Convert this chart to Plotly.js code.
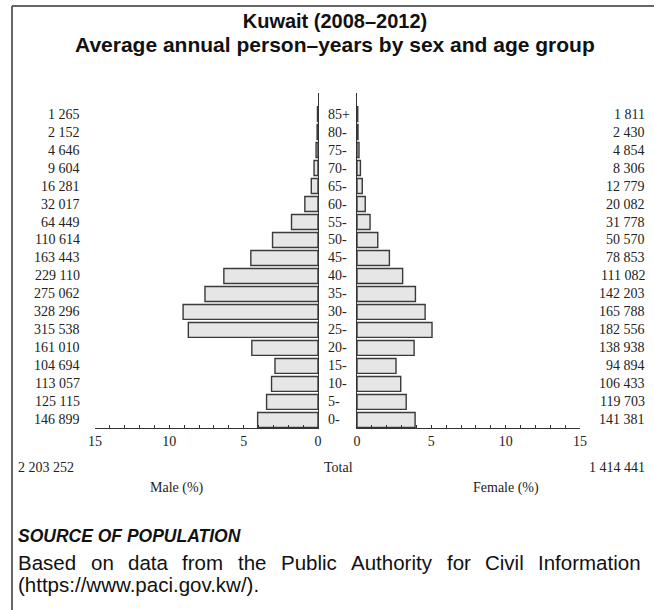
<!DOCTYPE html>
<html>
<head>
<meta charset="utf-8">
<script src="https://cdn.plot.ly/plotly-3.0.1.min.js"></script>
<style>html,body{margin:0;padding:0;background:#fff;}#chart{width:654px;height:610px;}</style>
</head>
<body>
<div id="chart"></div>
<script>
// Data (bottom to top)
const ageGroups = ['0-','5-','10-','15-','20-','25-','30-','35-','40-','45-','50-','55-','60-','65-','70-','75-','80-','85+'];
const maleCounts = [146899,125115,113057,104694,161010,315538,328296,275062,229110,163443,110614,64449,32017,16281,9604,4646,2152,1265];
const femaleCounts = [141381,119703,106433,94894,138938,182556,165788,142203,111082,78853,50570,31778,20082,12779,8306,4854,2430,1811];
const maleTotalLabel = '2 203 252';
const femaleTotalLabel = '1 414 441';
const xTickVals = [0,5,10,15];
const sourceLine1 = 'Based on data from the Public Authority for Civil Information';
const sourceLine2 = '(https://www.paci.gov.kw/).';

const sum = a => a.reduce((s,v)=>s+v,0);
const grand = sum(maleCounts) + sum(femaleCounts);
const malePct = maleCounts.map(v => v/grand*100);
const femalePct = femaleCounts.map(v => v/grand*100);
const fmt = n => String(n).replace(/\B(?=(\d{3})+(?!\d))/g, ' ');

const W = 654, H = 610;
const px = x => x / W;
const py = y => 1 - y / H;

const serif = 'Liberation Serif, Times New Roman, serif';
const sans = 'Liberation Sans, Arial, Helvetica, sans-serif';
const txt = '#222';
const numSize = 14;
const bodySize = 20.5;

const barStyle = {color:'#e6e6e6', line:{color:'#3a3a3a', width:1.4}};

const traces = [
  {type:'bar', orientation:'h', y:ageGroups, x:malePct, xaxis:'x', yaxis:'y', marker:barStyle, hoverinfo:'skip'},
  {type:'bar', orientation:'h', y:ageGroups, x:femalePct, xaxis:'x2', yaxis:'y2', marker:barStyle, hoverinfo:'skip'}
];

const annotations = [];
ageGroups.forEach((g,i) => {
  annotations.push({xref:'paper', yref:'y', x:px(325.5), y:i, text:g, showarrow:false, xanchor:'left', yanchor:'middle', font:{family:serif, size:numSize, color:txt}});
  annotations.push({xref:'paper', yref:'y', x:px(82), y:i, text:fmt(maleCounts[i]), showarrow:false, xanchor:'right', yanchor:'middle', font:{family:serif, size:numSize, color:txt}});
  annotations.push({xref:'paper', yref:'y', x:px(647), y:i, text:fmt(femaleCounts[i]), showarrow:false, xanchor:'right', yanchor:'middle', font:{family:serif, size:numSize, color:txt}});
});
annotations.push({xref:'paper', yref:'paper', x:px(16), y:py(467), text:maleTotalLabel, showarrow:false, xanchor:'left', yanchor:'middle', font:{family:serif, size:numSize, color:txt}});
annotations.push({xref:'paper', yref:'paper', x:px(647), y:py(467), text:femaleTotalLabel, showarrow:false, xanchor:'right', yanchor:'middle', font:{family:serif, size:numSize, color:txt}});
annotations.push({xref:'paper', yref:'paper', x:px(338), y:py(467), text:'Total', showarrow:false, xanchor:'center', yanchor:'middle', font:{family:serif, size:numSize, color:txt}});
annotations.push({xref:'paper', yref:'paper', x:px(177), y:py(488), text:'Male (%)', showarrow:false, xanchor:'center', yanchor:'middle', font:{family:serif, size:numSize, color:txt}});
annotations.push({xref:'paper', yref:'paper', x:px(506), y:py(488), text:'Female (%)', showarrow:false, xanchor:'center', yanchor:'middle', font:{family:serif, size:numSize, color:txt}});
annotations.push({xref:'paper', yref:'paper', x:px(335), y:py(45), text:'<b>Average annual person–years by sex and age group</b>', showarrow:false, xanchor:'center', yanchor:'middle', borderpad:0, font:{family:sans, size:21, color:'#111'}});
annotations.push({xref:'paper', yref:'paper', x:px(16), y:py(536), text:'<b><i>SOURCE OF POPULATION</i></b>', showarrow:false, xanchor:'left', yanchor:'middle', font:{family:sans, size:17.5, color:'#111'}});

// justified first source line: place each word between x=17 and x=640
(function(){
  const ctx = document.createElement('canvas').getContext('2d');
  ctx.font = bodySize + 'px "Liberation Sans", Arial, sans-serif';
  const words = sourceLine1.split(' ');
  const widths = words.map(w => ctx.measureText(w).width);
  const left = 17, right = 640;
  const gap = (right - left - sum(widths)) / (words.length - 1);
  let x = left;
  words.forEach((w,i) => {
    annotations.push({xref:'paper', yref:'paper', x:px(x), y:py(562), text:w, showarrow:false, xanchor:'left', yanchor:'middle', borderpad:0, font:{family:sans, size:bodySize, color:'#111'}});
    x += widths[i] + gap;
  });
})();
annotations.push({xref:'paper', yref:'paper', x:px(17), y:py(584), text:sourceLine2, showarrow:false, xanchor:'left', yanchor:'middle', borderpad:0, font:{family:sans, size:bodySize, color:'#111'}});

const xCommon = {
  showgrid:false, zeroline:false, showline:true, linecolor:'#333', linewidth:1.3,
  ticks:'inside', ticklen:3, tickcolor:'#333', tickwidth:1,
  tickmode:'array', tickvals:xTickVals,
  minor:{dtick:1, ticks:'inside', ticklen:3, tickcolor:'#333', tickwidth:1, showgrid:false},
  tickfont:{family:serif, size:numSize, color:txt}, fixedrange:true
};
const yRange = [-0.45, 18.17];
const yCommon = {type:'category', range:yRange, showgrid:false, zeroline:false, showline:true, linecolor:'#333', linewidth:1.3, showticklabels:false, ticks:'', fixedrange:true};

const yDom = [py(428), py(93)];

const layout = {
  width:W, height:H, autosize:false,
  margin:{l:0, r:0, t:0, b:0},
  paper_bgcolor:'#fff', plot_bgcolor:'rgba(0,0,0,0)',
  showlegend:false, bargap:0.17,
  title:{text:'<b>Kuwait (2008–2012)</b>', x:px(335), xanchor:'center', xref:'paper', y:py(21), yref:'paper', yanchor:'middle', font:{family:sans, size:20, color:'#111'}},
  xaxis:Object.assign({}, xCommon, {domain:[px(95), px(318)], range:[15,0], anchor:'y'}),
  xaxis2:Object.assign({}, xCommon, {domain:[px(357), px(580)], range:[0,15], anchor:'y2'}),
  yaxis:Object.assign({}, yCommon, {domain:yDom, anchor:'x', side:'right'}),
  yaxis2:Object.assign({}, yCommon, {domain:yDom, anchor:'x2', side:'left'}),
  annotations:annotations,
  shapes:[
    {type:'line', xref:'paper', yref:'paper', x0:px(12), x1:1, y0:py(6), y1:py(6), line:{color:'#333', width:1.5}},
    {type:'line', xref:'paper', yref:'paper', x0:px(12), x1:px(12), y0:py(6), y1:0, line:{color:'#333', width:1.5}}
  ]
};

Plotly.newPlot('chart', traces, layout, {staticPlot:true, displayModeBar:false});
</script>
</body>
</html>
